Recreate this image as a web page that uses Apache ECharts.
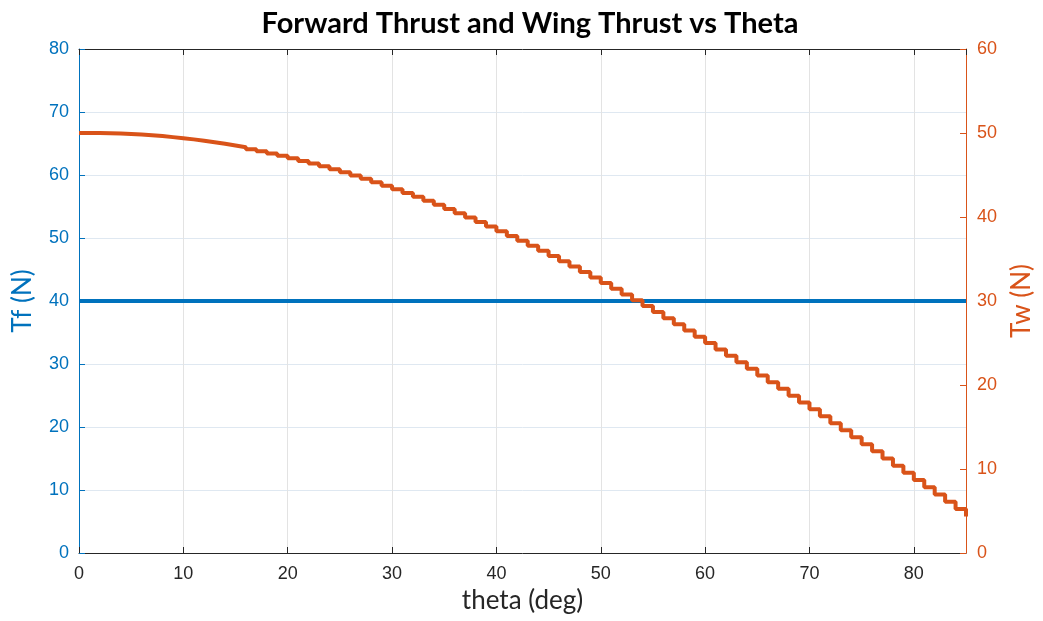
<!DOCTYPE html>
<html>
<head>
<meta charset="utf-8">
<script src="https://cdn.jsdelivr.net/npm/echarts@6/dist/echarts.min.js"></script>
<style>html,body{margin:0;padding:0;background:#fff;}#chart{width:1043px;height:621px;}</style>
</head>
<body>
<div id="chart"></div>
<script>
var thetaDeg = [0,1,2,3,4,5,6,7,8,9,10,11,12,13,14,15,16,17,18,19,20,21,22,23,24,25,26,27,28,29,30,31,32,33,34,35,36,37,38,39,40,41,42,43,44,45,46,47,48,49,50,51,52,53,54,55,56,57,58,59,60,61,62,63,64,65,66,67,68,69,70,71,72,73,74,75,76,77,78,79,80,81,82,83,84,85];
var twValues = [50.00,49.99,49.97,49.93,49.88,49.81,49.73,49.63,49.51,49.38,49.24,49.08,48.91,48.72,48.51,48.30,48.06,47.82,47.55,47.28,46.98,46.68,46.36,46.03,45.68,45.32,44.94,44.55,44.15,43.73,43.30,42.86,42.40,41.93,41.45,40.96,40.45,39.93,39.40,38.86,38.30,37.74,37.16,36.57,35.97,35.36,34.73,34.10,33.46,32.80,32.14,31.47,30.78,30.09,29.39,28.68,27.96,27.23,26.50,25.75,25.00,24.24,23.47,22.70,21.92,21.13,20.34,19.54,18.73,17.92,17.10,16.28,15.45,14.62,13.78,12.94,12.10,11.25,10.40,9.54,8.68,7.82,6.96,6.09,5.23,4.36];
var tfTheta = [0, 85];
var tfValues = [40, 40];
var xTicks = [0,10,20,30,40,50,60,70,80];
var tfTicks = [0,10,20,30,40,50,60,70,80];
var twTicks = [0,10,20,30,40,50,60];

var BLUE = '#0072BD', ORANGE = '#D95319', DARK = '#262626';
var tickFont = 'Liberation Sans';
var nameFont = 'Lato';

var chart = echarts.init(document.getElementById('chart'), null, {renderer: 'canvas'});
chart.setOption({
  animation: false,
  backgroundColor: '#ffffff',
  title: {
    text: 'Forward Thrust and Wing Thrust vs Theta',
    left: 525, top: 4, textAlign: 'center',
    textStyle: {fontFamily: nameFont, fontWeight: 'bold', fontSize: 29, color: '#000'}
  },
  grid: {left: 79, right: 73, top: 49, bottom: 68, containLabel: false},
  xAxis: [{
    type: 'value', min: 0, max: 85, interval: 10, position: 'bottom',
    name: 'theta (deg)', nameLocation: 'middle', nameGap: 33,
    nameTextStyle: {fontFamily: nameFont, fontSize: 26, color: DARK},
    axisLine: {show: true, onZero: false, lineStyle: {color: DARK, width: 1}},
    axisTick: {show: true, inside: true, length: 6, lineStyle: {color: DARK}},
    axisLabel: {fontFamily: tickFont, fontSize: 18, color: DARK, margin: 12, showMaxLabel: false,
      formatter: function (v) { return xTicks.indexOf(v) >= 0 ? String(v) : ''; }},
    splitLine: {show: true, lineStyle: {color: '#e3e3e3', width: 1}}
  }, {
    type: 'value', min: 0, max: 85, interval: 10, position: 'top',
    axisLine: {show: true, onZero: false, lineStyle: {color: DARK, width: 1}},
    axisTick: {show: true, inside: true, length: 6, lineStyle: {color: DARK}},
    axisLabel: {show: false},
    splitLine: {show: false}
  }],
  yAxis: [{
    type: 'value', min: 0, max: 80, interval: 10, position: 'left',
    name: 'Tf (N)', nameLocation: 'middle', nameGap: 43, nameRotate: 90,
    nameTextStyle: {fontFamily: nameFont, fontSize: 26, color: BLUE},
    axisLine: {show: true, onZero: false, lineStyle: {color: BLUE, width: 1}},
    axisTick: {show: true, inside: true, length: 6, lineStyle: {color: BLUE}},
    axisLabel: {fontFamily: tickFont, fontSize: 18, color: BLUE, margin: 10,
      formatter: function (v) { return tfTicks.indexOf(v) >= 0 ? String(v) : ''; }},
    splitLine: {show: true, lineStyle: {color: '#dfe8f1', width: 1}}
  }, {
    type: 'value', min: 0, max: 60, interval: 10, position: 'right',
    name: 'Tw (N)', nameLocation: 'middle', nameGap: 43, nameRotate: 90,
    nameTextStyle: {fontFamily: nameFont, fontSize: 26, color: ORANGE},
    axisLine: {show: true, onZero: false, lineStyle: {color: ORANGE, width: 1}},
    axisTick: {show: true, inside: true, length: 6, lineStyle: {color: ORANGE}},
    axisLabel: {fontFamily: tickFont, fontSize: 18, color: ORANGE, margin: 11,
      formatter: function (v) { return twTicks.indexOf(v) >= 0 ? String(v) : ''; }},
    splitLine: {show: false}
  }],
  series: [{
    name: 'Tf', type: 'line', xAxisIndex: 0, yAxisIndex: 0,
    data: tfTheta.map(function (t, i) { return [t, tfValues[i]]; }),
    showSymbol: false, symbol: 'none',
    lineStyle: {color: BLUE, width: 4}, z: 3
  }, {
    name: 'Tw', type: 'line', xAxisIndex: 0, yAxisIndex: 1, step: 'end',
    data: thetaDeg.map(function (t, i) { return [t, twValues[i]]; }),
    showSymbol: false, symbol: 'none',
    lineStyle: {color: ORANGE, width: 4}, z: 4
  }]
});
</script>
</body>
</html>
